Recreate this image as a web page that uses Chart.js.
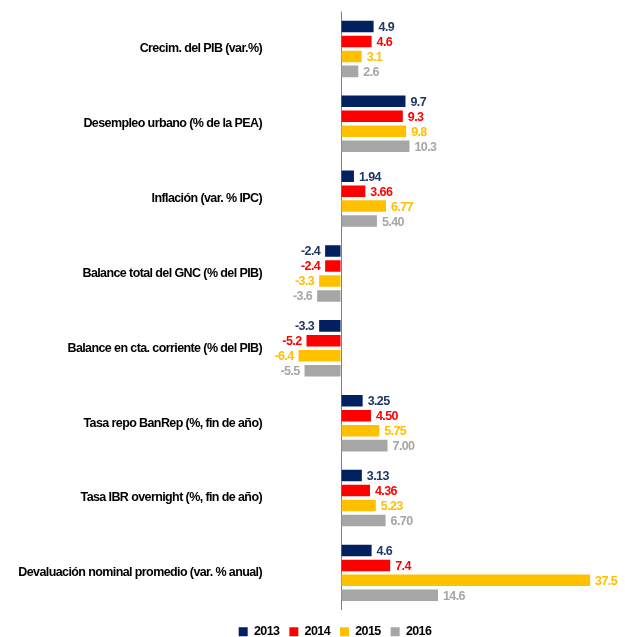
<!DOCTYPE html>
<html>
<head>
<meta charset="utf-8">
<script src="https://cdn.jsdelivr.net/npm/chart.js@4"></script>
<style>
  html, body { margin: 0; padding: 0; background: #fff; }
  #wrap { width: 625px; height: 637px; position: relative; }
</style>
</head>
<body>
<div id="wrap"><canvas id="macro-chart"></canvas></div>
<script>
// indicadores macro
const categories = [
    "Crecim. del PIB (var.%)",
    "Desempleo urbano (% de la PEA)",
    "Inflación (var. % IPC)",
    "Balance total del GNC (% del PIB)",
    "Balance en cta. corriente (% del PIB)",
    "Tasa repo BanRep (%, fin de año)",
    "Tasa IBR overnight (%, fin de año)",
    "Devaluación nominal promedio (var. % anual)"
];
const decimals = [1, 1, 2, 1, 1, 2, 2, 1];

const years = ["2013", "2014", "2015", "2016"];
const data2013 = [4.9, 9.7, 1.94, -2.4, -3.3, 3.25, 3.13, 4.6];
const data2014 = [4.6, 9.3, 3.66, -2.4, -5.2, 4.50, 4.36, 7.4];
const data2015 = [3.1, 9.8, 6.77, -3.3, -6.4, 5.75, 5.23, 37.5];
const data2016 = [2.6, 10.3, 5.40, -3.6, -5.5, 7.00, 6.70, 14.6];

const barColors = ["#002060", "#FF0000", "#FFC000", "#A6A6A6"];
const labelColors = ["#1F3864", "#FF0000", "#FFC000", "#A6A6A6"];

const FONT = "'Liberation Sans', Arial, sans-serif";
const SPACING = '-0.6px';

// texto algo condensado (el canvas pierde el estado al redimensionar)
const condensed = {
    id: 'condensed',
    beforeLayout(chart) { chart.ctx.letterSpacing = SPACING; },
    beforeDraw(chart) { chart.ctx.letterSpacing = SPACING; }
};

// leyenda corrida un poco a la derecha
const legendShift = {
    id: 'legendShift',
    afterLayout(chart) {
        if (chart.legend) {
            chart.legend.left += 25;
            chart.legend.right += 25;
        }
    }
};

// etiquetas de valor al final de cada barra
const valueLabels = {
    id: 'valueLabels',
    afterDatasetsDraw(chart) {
        const ctx = chart.ctx;
        ctx.save();
        ctx.font = "bold 12.5px " + FONT;
        ctx.textBaseline = 'middle';
        chart.data.datasets.forEach((ds, i) => {
            const meta = chart.getDatasetMeta(i);
            meta.data.forEach((bar, j) => {
                const v = ds.data[j];
                const txt = v.toFixed(decimals[j]);
                ctx.fillStyle = labelColors[i];
                if (v >= 0) {
                    ctx.textAlign = 'left';
                    ctx.fillText(txt, bar.x + 5, bar.y + 1);
                } else {
                    ctx.textAlign = 'right';
                    ctx.fillText(txt, bar.x - 5, bar.y + 1);
                }
            });
        });
        ctx.restore();
    }
};

new Chart(document.getElementById("macro-chart"), {
    type: 'bar',
    data: {
        labels: categories,
        datasets: [data2013, data2014, data2015, data2016].map((d, i) => ({
            label: years[i],
            data: d,
            backgroundColor: barColors[i],
            categoryPercentage: 0.8,
            barPercentage: 0.77
        }))
    },
    options: {
        indexAxis: 'y',
        responsive: true,
        maintainAspectRatio: false,
        animation: false,
        layout: {
            padding: { top: 10, right: 5, left: 0, bottom: -11 }
        },
        scales: {
            x: {
                min: -11.3,
                max: 42,
                ticks: { display: false },
                border: { display: false },
                grid: {
                    drawTicks: false,
                    color: (c) => c.tick && c.tick.value === 0 ? '#808080' : 'rgba(0,0,0,0)'
                },
                afterBuildTicks: (scale) => {
                    scale.ticks = [{ value: 0 }];
                }
            },
            y: {
                border: { display: false },
                grid: { display: false, drawTicks: false },
                ticks: {
                    color: '#000',
                    padding: 4,
                    font: { family: FONT, size: 12.5, weight: 'bold' }
                },
                afterFit: (scale) => {
                    scale.width = 266;
                }
            }
        },
        plugins: {
            legend: {
                position: 'bottom',
                title: {
                    display: true,
                    text: '',
                    font: { size: 1 },
                    padding: { top: 4, bottom: 0 }
                },
                labels: {
                    color: '#000',
                    boxWidth: 9,
                    boxHeight: 9,
                    padding: 10,
                    font: { family: FONT, size: 12.5, weight: 'bold' }
                }
            },
            tooltip: { enabled: false }
        }
    },
    plugins: [condensed, legendShift, valueLabels]
});
</script>
</body>
</html>
